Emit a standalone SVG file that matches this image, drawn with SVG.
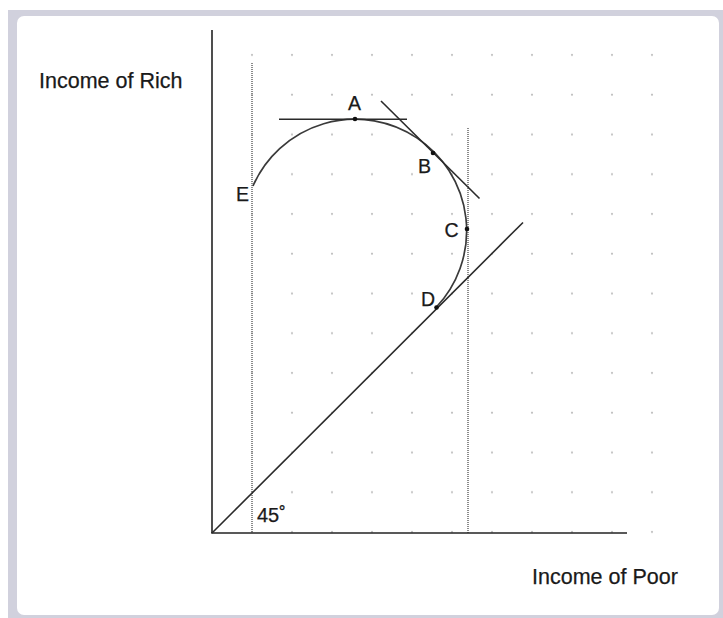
<svg xmlns="http://www.w3.org/2000/svg" width="723" height="618" viewBox="0 0 723 618">
<style>
text{font-family:"Liberation Sans",Arial,sans-serif;fill:#1a1a1a;stroke:#1a1a1a;stroke-width:0.25}
.ax{font-size:21.5px}
.lb{font-size:19.5px}
.axis{stroke:#222;stroke-width:1.6;fill:none}
.dotted{stroke:#6f6f6f;stroke-width:1.6;stroke-dasharray:1 1;fill:none}
.curve{stroke:#3a3a3a;stroke-width:1.7;fill:none}
.tan{stroke:#2a2a2a;stroke-width:1.6;fill:none}
.pt{fill:#111}
</style>
<defs>
<pattern id="grid" x="232" y="35.25" width="40" height="39.75" patternUnits="userSpaceOnUse">
<circle cx="20" cy="19.75" r="1.1" fill="#bdbdbd"/>
</pattern>
</defs>
<rect x="8" y="10" width="715" height="608" fill="#d1d1dd"/>
<rect x="17" y="16" width="702" height="599" rx="7" fill="#ffffff"/>
<rect id="dotgrid" x="232" y="35.25" width="440" height="516.75" fill="url(#grid)"/>
<g id="guides">
<line class="dotted" x1="252" y1="63" x2="252" y2="533"/>
<line class="dotted" x1="468" y1="128" x2="468" y2="533"/>
</g>
<g id="axes">
<line class="axis" x1="212" y1="30" x2="212" y2="533"/>
<line class="axis" x1="211.2" y1="533" x2="627" y2="533"/>
</g>
<g id="connectors">
<line id="line45" class="tan" x1="212" y1="533" x2="523" y2="222.5"/>
<path id="curve" class="curve" d="M253 186 A111.5 111.5 0 1 1 436 307.5"/>
<line id="tangentA" class="tan" x1="279" y1="119.3" x2="407" y2="119.3"/>
<line id="tangentB" class="tan" x1="381" y1="101" x2="479.5" y2="198.5"/>
</g>
<g id="pointA"><circle class="pt" cx="355" cy="119" r="2.3"/><text class="lb" x="348" y="110">A</text></g>
<g id="pointB"><circle class="pt" cx="433" cy="153" r="2.3"/><text class="lb" x="418" y="173">B</text></g>
<g id="pointC"><circle class="pt" cx="467" cy="229" r="2.3"/><text class="lb" x="444.5" y="237">C</text></g>
<g id="pointD"><circle class="pt" cx="436.5" cy="307.5" r="2.3"/><text class="lb" x="421" y="305.5">D</text></g>
<g id="pointE"><text class="lb" x="236" y="200.5">E</text></g>
<g id="angle"><text class="lb" x="257" y="522" style="font-size:20px">45˚</text></g>
<g id="labels">
<text class="ax" x="39" y="88">Income of Rich</text>
<text class="ax" x="532" y="584">Income of Poor</text>
</g>
</svg>
